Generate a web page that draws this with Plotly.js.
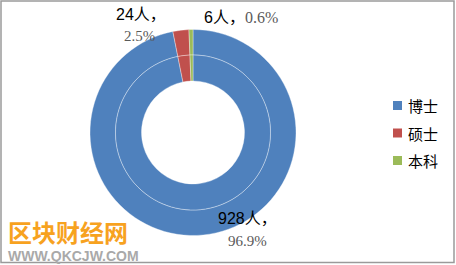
<!DOCTYPE html>
<html>
<head>
<meta charset="utf-8">
<script src="https://cdn.plot.ly/plotly-3.0.1.min.js"></script>
<style>
  html, body { margin: 0; padding: 0; background: #ffffff; }
  #chart { width: 456px; height: 265px; }
</style>
</head>
<body>
<div id="chart"></div>
<script>
// Degree breakdown of staff
const categories = ['博士', '硕士', '本科'];
const counts = [928, 24, 6];
const colors = ['#4F81BD', '#C0504D', '#9BBB59'];

const W = 456, H = 265;
const px = x => x / W;          // pixel -> paper x
const py = y => 1 - y / H;      // pixel -> paper y

// ring geometry (pixels)
const cx = 193, cy = 132.5, rOuter = 103, rMid = 77.5, rInner = 51.5;

function domainFor(r) {
  return { x: [px(cx - r), px(cx + r)], y: [py(cy + r), py(cy - r)] };
}

const total = counts.reduce((a, b) => a + b, 0);
const pct = counts.map(v => (v / total * 100).toFixed(1) + '%');

const common = {
  type: 'pie',
  labels: categories,
  values: counts,
  sort: false,
  direction: 'clockwise',
  rotation: 0,
  textinfo: 'none',
  hoverinfo: 'skip',
  showlegend: false,
  marker: { colors: colors, line: { color: 'rgba(255,255,255,0.7)', width: 0.5 } }
};

const traces = [
  Object.assign({}, common, { domain: domainFor(rOuter), hole: rMid / rOuter }),
  Object.assign({}, common, { domain: domainFor(rMid), hole: rInner / rMid })
];

const numFont = 'Liberation Sans, Arial, Noto Sans CJK SC, sans-serif';
const pctFont = 'Liberation Serif, Times New Roman, serif';
const pctColor = '#5a5a5a';

const annotations = [];
function addText(text, x, y, font, anchor) {
  annotations.push({
    xref: 'paper', yref: 'paper', x: px(x), y: py(y),
    xanchor: anchor || 'left', yanchor: 'middle',
    text: text, showarrow: false, font: font
  });
}

// data labels
addText(counts[1] + '人，', 114, 15, { family: numFont, size: 16, color: '#000000' });
addText(pct[1], 122, 36, { family: pctFont, size: 15, color: pctColor });
addText(counts[2] + '人，' + '<span style="font-family:' + pctFont + ';color:' + pctColor + '">' + pct[2] + '</span>',
        202, 17.5, { family: numFont, size: 16, color: '#000000' });
addText(counts[0] + '人，', 216, 218, { family: numFont, size: 16, color: '#000000' });
addText(pct[0], 226, 241, { family: pctFont, size: 15, color: pctColor });

// legend
const shapes = [];
const legendRows = [105.5, 133, 160.5];
categories.forEach((c, i) => {
  shapes.push({
    type: 'rect', xref: 'paper', yref: 'paper',
    x0: px(393), x1: px(402), y0: py(legendRows[i] + 4.5), y1: py(legendRows[i] - 4.5),
    fillcolor: colors[i], line: { width: 0 }
  });
  addText(c, 406, legendRows[i], { family: 'Noto Sans CJK SC, sans-serif', size: 15, color: '#000000' });
});

// site mark
addText('区块财经网', 6, 231, { family: 'Noto Sans CJK SC, sans-serif', size: 24, color: '#F7A21F', weight: 'bold' });
addText('WWW.QKCJW.COM', 6, 256, { family: 'Liberation Sans, Arial, sans-serif', size: 14, color: '#A9A9A9', weight: 'bold' });

// outer frame
shapes.push({
  type: 'rect', xref: 'paper', yref: 'paper',
  x0: px(1), x1: px(454), y0: py(262.5), y1: py(1),
  line: { color: '#9a9a9a', width: 1.5 }, fillcolor: 'rgba(0,0,0,0)'
});

const layout = {
  width: W, height: H,
  margin: { l: 0, r: 0, t: 0, b: 0 },
  paper_bgcolor: '#ffffff',
  showlegend: false,
  annotations: annotations,
  shapes: shapes
};

Plotly.newPlot('chart', traces, layout, { displayModeBar: false, staticPlot: true });
</script>
</body>
</html>
